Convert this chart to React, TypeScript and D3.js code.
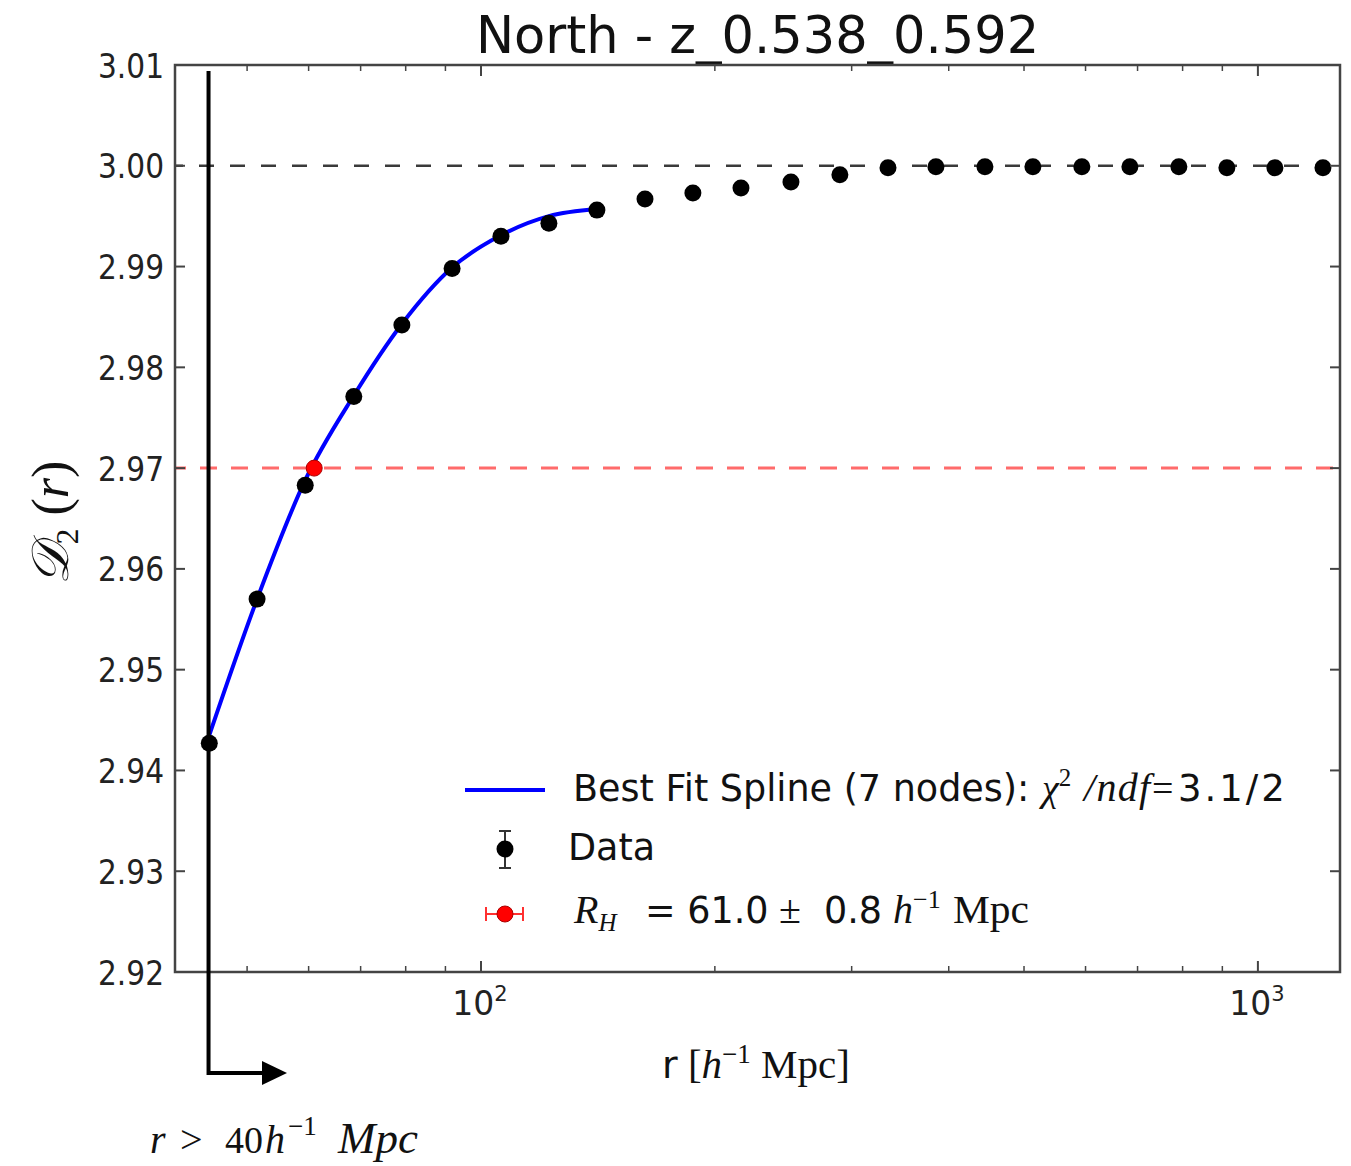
import React from "react";
import * as d3 from "d3";

const chartTitle = "North - z_0.538_0.592";
const rValues = [44.7, 51.5, 59.4, 68.6, 79.1, 91.8, 106.1, 122.3, 141.0, 162.6, 187.4, 216.1, 250.6, 289.7, 334.1, 385.1, 445.3, 513.3, 593.5, 684.3, 791.2, 912.2, 1051.7, 1212.6];
const d2Values = [2.9427, 2.957, 2.9683, 2.9771, 2.9842, 2.9898, 2.993, 2.9943, 2.9956, 2.9967, 2.9973, 2.9978, 2.9984, 2.9991, 2.9998, 2.9999, 2.9999, 2.9999, 2.9999, 2.9999, 2.9999, 2.9998, 2.9998, 2.9998];
const d2Errors = [0.0005, 0.0004, 0.0004, 0.0003, 0.0003, 0.0002, 0.0002, 0.0002, 0.0002, 0.0002, 0.0001, 0.0001, 0.0001, 0.0001, 0.0001, 0.0001, 0.0001, 0.0001, 0.0001, 0.0001, 0.0001, 0.0001, 0.0001, 0.0001];
const fitR = [44.7, 51.5, 59.4, 68.6, 79.1, 91.8, 106.1, 122.3, 141.0];
const fitValues = [2.9435, 2.957, 2.9688, 2.9772, 2.9843, 2.9899, 2.9931, 2.995, 2.9957];
const rH = 61.0;
const rHErr = 0.8;
const rHLevel = 2.97;
const plateauLevel = 3.0;
const yTicks = [2.92, 2.93, 2.94, 2.95, 2.96, 2.97, 2.98, 2.99, 3.0, 3.01];
const xMajorTicks = [100, 1000];
const xMajorExp = ["2", "3"];
const xMinorTicks = [50, 60, 70, 80, 90, 200, 300, 400, 500, 600, 700, 800, 900];
const cutR = 44.6;

const W = 1351;
const H = 1166;
const L = 175, R = 1340, T = 65, B = 972;

const SANS = "'DejaVu Sans', sans-serif";
const SERIF = "'Liberation Serif', 'DejaVu Serif', serif";

export default function App() {
  const x = d3.scaleLog().domain([40.38, 1275.5]).range([L, R]);
  const y = d3.scaleLinear().domain([2.92, 3.01]).range([B, T]);

  const fitLine = d3
    .line<number>()
    .x((_, i) => x(fitR[i]))
    .y((d) => y(d))
    .curve(d3.curveMonotoneX)(fitValues) as string;

  const cutX = x(cutR);
  const axisColor = "#444";

  return (
    <svg width={W} height={H} style={{ position: "absolute", left: 0, top: 0, background: "#fff" }}>
      {/* title */}
      <text x={(L + R) / 2} y={53} textAnchor="middle" fontFamily={SANS} fontSize={51} fill="#111">
        {chartTitle}
      </text>

      {/* reference lines */}
      <line x1={L} x2={R} y1={y(plateauLevel)} y2={y(plateauLevel)} stroke="#3a3a3a" strokeWidth={2.5} strokeDasharray="15,16" strokeDashoffset={7} />
      <line x1={L} x2={R} y1={y(rHLevel)} y2={y(rHLevel)} stroke="#ff6b6b" strokeWidth={3} strokeDasharray="17,14" strokeDashoffset={6} />

      {/* fit */}
      <path d={fitLine} fill="none" stroke="#0000ff" strokeWidth={4} />

      {/* data */}
      {rValues.map((r, i) => (
        <g key={i}>
          <line x1={x(r)} x2={x(r)} y1={y(d2Values[i] - d2Errors[i])} y2={y(d2Values[i] + d2Errors[i])} stroke="#777" strokeWidth={2} />
          <circle cx={x(r)} cy={y(d2Values[i])} r={8.5} fill="#000" />
        </g>
      ))}

      {/* R_H point */}
      <line x1={x(rH - rHErr)} x2={x(rH + rHErr)} y1={y(rHLevel)} y2={y(rHLevel)} stroke="#ff3030" strokeWidth={2} />
      <circle cx={x(rH)} cy={y(rHLevel)} r={8} fill="#ff0000" stroke="#aa0000" strokeWidth={1} />

      {/* axes frame */}
      <rect x={L} y={T} width={R - L} height={B - T} fill="none" stroke={axisColor} strokeWidth={2.5} />

      {/* y ticks */}
      {yTicks.map((t) => (
        <g key={t}>
          <line x1={L} x2={L + 10} y1={y(t)} y2={y(t)} stroke={axisColor} strokeWidth={2} />
          <line x1={R - 10} x2={R} y1={y(t)} y2={y(t)} stroke={axisColor} strokeWidth={2} />
          <text x={164} y={y(t)} dy="0.37em" textAnchor="end" fontFamily={SANS} fontSize={34} fill="#222" textLength={66} lengthAdjust="spacingAndGlyphs">
            {t.toFixed(2)}
          </text>
        </g>
      ))}

      {/* x ticks */}
      {xMajorTicks.map((t, i) => (
        <g key={t}>
          <line x1={x(t)} x2={x(t)} y1={B} y2={B - 11} stroke={axisColor} strokeWidth={2} />
          <line x1={x(t)} x2={x(t)} y1={T} y2={T + 11} stroke={axisColor} strokeWidth={2} />
          <text x={x(t) - 1} y={1015} textAnchor="middle" fontFamily={SANS} fontSize={33} fill="#222">
            10
            <tspan dy={-14} fontSize={21}>{xMajorExp[i]}</tspan>
          </text>
        </g>
      ))}
      {xMinorTicks.map((t) => (
        <g key={t}>
          <line x1={x(t)} x2={x(t)} y1={B} y2={B - 6} stroke={axisColor} strokeWidth={1.5} />
          <line x1={x(t)} x2={x(t)} y1={T} y2={T + 6} stroke={axisColor} strokeWidth={1.5} />
        </g>
      ))}

      {/* axis labels */}
      <text x={662} y={1078} fontFamily={SERIF} fontSize={41} fill="#111">
        <tspan fontFamily={SANS} fontSize={38}>r</tspan>
        <tspan> [</tspan>
        <tspan fontStyle="italic">h</tspan>
        <tspan dy={-15} fontSize={27}>−1</tspan>
        <tspan dy={15}> Mpc]</tspan>
      </text>
      <text transform="translate(68,523) rotate(-90)" textAnchor="middle" fontFamily={SERIF} fontSize={52} fill="#111">
        <tspan fontStyle="italic">𝒟</tspan>
        <tspan dy={10} fontSize={32}>2</tspan>
        <tspan dy={-10}> (</tspan>
        <tspan fontStyle="italic">r</tspan>
        <tspan>)</tspan>
      </text>

      {/* legend */}
      <line x1={465} x2={545} y1={790} y2={790} stroke="#0000ff" strokeWidth={4} />
      <text x={573} y={801} fontFamily={SANS} fontSize={36.5} fill="#111">
        Best Fit Spline (7 nodes):
      </text>
      <text x={1042} y={801} fontFamily={SERIF} fontSize={38} fill="#111">
        <tspan fontStyle="italic">χ</tspan>
        <tspan dy={-15} fontSize={25}>2</tspan>
      </text>
      <text x={1084} y={801} fontFamily={SERIF} fontStyle="italic" fontSize={40} fill="#111" textLength={66} lengthAdjust="spacing">
        /ndf
      </text>
      <text x={1152} y={801} fontFamily={SERIF} fontSize={38} fill="#111">=</text>
      <text x={1178} y={801} fontFamily={SANS} fontSize={37} fill="#111" letterSpacing={3}>3.1/2</text>

      <line x1={505} x2={505} y1={831} y2={868} stroke="#333" strokeWidth={2} />
      <line x1={499} x2={511} y1={831} y2={831} stroke="#333" strokeWidth={2} />
      <line x1={499} x2={511} y1={868} y2={868} stroke="#333" strokeWidth={2} />
      <circle cx={505} cy={849} r={8.5} fill="#000" />
      <text x={568} y={860} fontFamily={SANS} fontSize={36.5} fill="#111">Data</text>

      <line x1={486} x2={523} y1={914} y2={914} stroke="#ff3030" strokeWidth={2} />
      <line x1={486} x2={486} y1={907} y2={921} stroke="#ff3030" strokeWidth={2} />
      <line x1={523} x2={523} y1={907} y2={921} stroke="#ff3030" strokeWidth={2} />
      <circle cx={505} cy={914} r={8} fill="#ff0000" stroke="#aa0000" strokeWidth={1} />
      <text x={574} y={923} fontFamily={SERIF} fontSize={40} fill="#111">
        <tspan fontStyle="italic">R</tspan>
        <tspan dy={8} fontSize={25} fontStyle="italic">H</tspan>
      </text>
      <text x={645} y={923} fontFamily={SANS} fontSize={36.5} fill="#111">= 61.0</text>
      <text x={779} y={923} fontFamily={SERIF} fontSize={40} fill="#111">±</text>
      <text x={824} y={923} fontFamily={SANS} fontSize={36.5} fill="#111">0.8</text>
      <text x={893} y={923} fontFamily={SERIF} fontSize={40} fill="#111">
        <tspan fontStyle="italic">h</tspan>
        <tspan dy={-15} fontSize={26}>−1</tspan>
      </text>
      <text x={953} y={923} fontFamily={SERIF} fontSize={40} fill="#111" textLength={76} lengthAdjust="spacingAndGlyphs">Mpc</text>

      {/* cut annotation */}
      <line x1={cutX} x2={cutX} y1={71} y2={1075} stroke="#000" strokeWidth={4} />
      <line x1={cutX} x2={264} y1={1073} y2={1073} stroke="#000" strokeWidth={4} />
      <polygon points={`262,1061 287,1073 262,1085`} fill="#000" />
      <g fontFamily={SERIF} fontSize={40} fill="#111">
        <text x={150} y={1153} fontStyle="italic">r</text>
        <text x={180} y={1153}>&gt;</text>
        <text x={225} y={1153} fontSize={38}>40</text>
        <text x={265} y={1153} fontStyle="italic">h</text>
        <text x={288} y={1135} fontSize={27}>−1</text>
        <text x={338} y={1153} fontStyle="italic" fontSize={45}>Mpc</text>
      </g>
    </svg>
  );
}
